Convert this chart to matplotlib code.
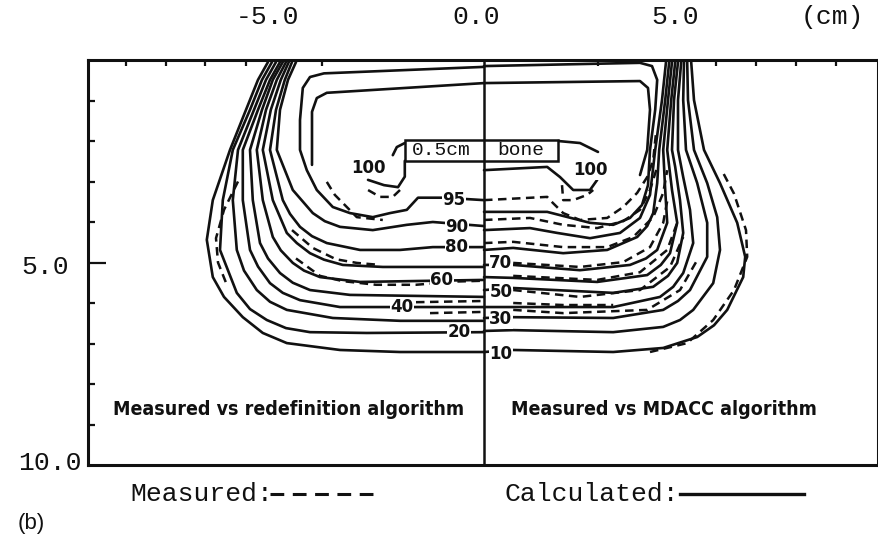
import matplotlib.pyplot as plt
from matplotlib.lines import Line2D
from matplotlib.patches import Rectangle

# Isodose lines as (lateral position in cm, depth in cm).
# Left half: measured vs redefinition algorithm, right half: measured vs MDACC.
calc_left_10 = [(0.2, 7.21), (-1.9, 7.21), (-3.4, 7.16), (-4.73, 6.99), (-5.33, 6.74), (-5.83, 6.35),
                (-6.3, 5.85), (-6.58, 5.36), (-6.73, 4.44), (-6.58, 3.46), (-6.15, 2.22), (-5.75, 1.23),
                (-5.45, 0.49), (-5.2, 0.05)]
calc_left_20 = [(0.2, 6.72), (-2.73, 6.74), (-4.15, 6.72), (-4.75, 6.62), (-5.23, 6.42), (-5.65, 6.15),
                (-5.98, 5.75), (-6.4, 4.69), (-6.33, 3.46), (-6.08, 2.22), (-5.65, 1.23), (-5.35, 0.49),
                (-5.1, 0.05)]
calc_left_30 = [(0.2, 6.44), (-1.9, 6.44), (-3.58, 6.37), (-4.73, 6.17), (-5.15, 5.97), (-5.48, 5.68),
                (-5.8, 5.2), (-5.98, 4.69), (-6.08, 3.46), (-5.95, 2.22), (-5.55, 1.23), (-5.25, 0.49),
                (-5.0, 0.05)]
calc_left_40 = [(0.2, 6.1), (-3.4, 6.1), (-4.4, 5.93), (-4.83, 5.75), (-5.15, 5.51), (-5.45, 5.1),
                (-5.65, 4.69), (-5.83, 3.46), (-5.83, 2.22), (-5.45, 1.23), (-5.15, 0.49), (-4.9, 0.05)]
calc_left_50 = [(0.2, 5.85), (-3.15, 5.8), (-4.15, 5.68), (-4.58, 5.5), (-4.9, 5.26), (-5.2, 4.9),
                (-5.4, 4.52), (-5.58, 3.46), (-5.65, 2.22), (-5.35, 1.23), (-5.08, 0.49), (-4.83, 0.05)]
calc_left_60 = [(0.2, 5.43), (-2.9, 5.48), (-3.9, 5.36), (-4.3, 5.2), (-4.58, 5.01), (-4.88, 4.7),
                (-5.08, 4.37), (-5.33, 3.46), (-5.48, 2.22), (-5.25, 1.23), (-4.98, 0.49), (-4.75, 0.05)]
calc_left_70 = [(0.2, 5.11), (-2.33, 5.11), (-3.33, 5.06), (-3.8, 4.93), (-4.15, 4.77), (-4.48, 4.52),
                (-4.73, 4.27), (-5.08, 3.46), (-5.33, 2.22), (-5.13, 1.23), (-4.88, 0.49), (-4.68, 0.05)]
calc_left_80 = [(0.2, 4.62), (-1.08, 4.62), (-1.9, 4.69), (-2.9, 4.69), (-3.73, 4.52), (-4.1, 4.35),
                (-4.4, 4.12), (-4.65, 3.8), (-4.83, 3.46), (-5.15, 2.22), (-5.0, 1.23), (-4.78, 0.49),
                (-4.6, 0.05)]
calc_left_90 = [(0.2, 4.1), (-1.08, 4.0), (-1.73, 4.07), (-2.58, 4.2), (-3.4, 4.12), (-3.78, 3.98),
                (-4.08, 3.78), (-4.58, 3.21), (-4.98, 2.22), (-4.9, 1.23), (-4.7, 0.49), (-4.5, 0.05)]
calc_left_95 = [(0.2, 3.46), (-0.8, 3.4), (-1.45, 3.4), (-1.73, 3.7), (-2.15, 3.78), (-2.58, 3.88),
                (-3.15, 3.78), (-3.58, 3.63), (-3.98, 3.21), (-4.23, 2.72), (-4.4, 2.22), (-4.4, 1.48),
                (-4.33, 0.69), (-4.15, 0.42), (-3.8, 0.33), (0.2, 0.17)]
calc_left_100 = [(0.2, 0.57), (-3.73, 0.81), (-3.98, 0.94), (-4.1, 1.28), (-4.1, 2.59)]
calc_left_100_bone = [(-1.78, 2.49), (-1.78, 2.88), (-1.95, 3.14), (-2.3, 3.09), (-2.7, 2.96)]
calc_left_100_curl = [(-2.08, 2.35), (-1.98, 2.15), (-1.78, 2.05)]

calc_right_10 = [(0.2, 7.21), (0.93, 7.16), (3.43, 7.21), (4.68, 7.11), (5.53, 6.84), (5.95, 6.55),
                 (6.28, 6.17), (6.68, 5.36), (6.73, 4.86), (6.53, 4.02), (6.1, 3.04), (5.7, 2.22),
                 (5.45, 0.99), (5.38, 0.05)]
calc_right_20 = [(0.2, 6.69), (0.93, 6.67), (3.43, 6.72), (4.68, 6.59), (5.1, 6.42), (5.43, 6.17),
                 (5.93, 5.51), (6.1, 4.69), (6.03, 3.88), (5.78, 3.04), (5.45, 2.22), (5.3, 0.99),
                 (5.28, 0.05)]
calc_right_30 = [(0.2, 6.37), (0.93, 6.35), (3.43, 6.37), (4.68, 6.17), (5.05, 5.95), (5.35, 5.68),
                 (5.78, 4.86), (5.78, 4.02), (5.53, 3.04), (5.25, 2.22), (5.18, 0.99), (5.2, 0.05)]
calc_right_40 = [(0.2, 6.1), (2.1, 6.1), (3.43, 6.1), (4.6, 5.85), (4.93, 5.6), (5.18, 5.26),
                 (5.43, 4.52), (5.35, 3.7), (5.18, 2.89), (5.05, 2.22), (5.05, 0.99), (5.13, 0.05)]
calc_right_50 = [(0.2, 5.68), (0.93, 5.63), (3.43, 5.75), (4.43, 5.6), (4.8, 5.33), (5.03, 5.01),
                 (5.18, 4.27), (5.1, 3.46), (4.98, 2.64), (4.9, 2.22), (4.95, 0.99), (5.05, 0.05)]
calc_right_60 = [(0.2, 5.36), (0.93, 5.38), (3.03, 5.48), (4.28, 5.31), (4.62, 5.06), (4.85, 4.77),
                 (5.03, 4.02), (4.9, 3.21), (4.78, 2.22), (4.88, 0.99), (4.98, 0.05)]
calc_right_70 = [(0.2, 5.06), (0.93, 5.06), (2.6, 5.19), (3.85, 5.06), (4.25, 4.9), (4.53, 4.69),
                 (4.78, 4.02), (4.73, 3.21), (4.68, 2.22), (4.8, 0.99), (4.9, 0.05)]
calc_right_80 = [(0.2, 4.69), (0.93, 4.64), (2.18, 4.77), (3.28, 4.69), (4.03, 4.37), (4.28, 4.1),
                 (4.43, 3.78), (4.53, 3.04), (4.58, 2.22), (4.73, 0.99), (4.83, 0.05)]
calc_right_90 = [(0.2, 4.2), (1.35, 4.15), (2.03, 4.27), (2.85, 4.4), (3.6, 4.27), (4.1, 3.9),
                 (4.35, 3.33), (4.48, 2.22), (4.65, 0.99), (4.75, 0.05)]
calc_right_95 = [(0.2, 3.75), (1.78, 3.75), (2.85, 4.02), (3.43, 4.07), (3.85, 3.9), (4.15, 3.58),
                 (4.3, 3.09), (4.35, 2.22), (4.48, 1.23), (4.53, 0.49), (4.4, 0.15), (4.1, 0.07), (0.2, 0.15)]
calc_right_100 = [(0.2, 0.57), (4.1, 0.52), (4.3, 0.69), (4.35, 1.23), (4.28, 2.22), (4.1, 2.84)]
calc_right_100_bone = [(0.2, 2.72), (1.78, 2.64), (2.1, 2.89), (2.43, 3.21), (2.85, 3.21), (3.03, 2.96)]
calc_right_100_edge = [(2.05, 2.0), (2.6, 2.05), (3.05, 2.27)]

meas_left_10 = [(-5.95, 3.0), (-6.3, 3.7), (-6.5, 4.4), (-6.45, 5.0), (-6.25, 5.5)]
meas_left_40 = [(-1.15, 6.25), (0.2, 6.22)]
meas_left_50 = [(-1.5, 5.98), (0.2, 5.95)]
meas_left_60 = [(-4.5, 4.9), (-3.9, 5.33), (-3.33, 5.46), (-2.5, 5.55), (-1.5, 5.55), (-0.5, 5.47), (0.2, 5.45)]
meas_left_70 = [(-4.6, 4.2), (-4.08, 4.64), (-3.5, 4.92), (-2.98, 5.01), (-2.4, 5.06)]
meas_left_95 = [(-3.73, 3.01), (-3.53, 3.33), (-2.98, 3.88), (-2.33, 3.95)]
meas_left_100 = [(-1.9, 3.21), (-2.08, 3.38), (-2.4, 3.38), (-2.7, 3.21)]

meas_right_10 = [(4.35, 7.21), (5.28, 6.99), (5.93, 6.42), (6.45, 5.68), (6.78, 4.86), (6.75, 4.2),
                 (6.45, 3.3), (6.18, 2.79)]
meas_right_30 = [(0.93, 6.17), (2.18, 6.25), (4.28, 6.17), (5.1, 5.68), (5.53, 4.94)]
meas_right_40 = [(0.93, 6.0), (2.18, 6.05), (3.43, 6.05)]
meas_right_50 = [(0.93, 5.68), (2.6, 5.85), (4.1, 5.68), (4.85, 5.11), (5.18, 4.37)]
meas_right_60 = [(0.93, 5.33), (3.03, 5.43), (4.1, 5.24), (4.78, 4.69), (5.03, 4.02)]
meas_right_70 = [(0.93, 5.01), (2.6, 5.11), (3.68, 4.99), (4.35, 4.62), (4.68, 4.02), (4.8, 3.38)]
meas_right_80 = [(0.2, 4.52), (0.93, 4.49), (2.18, 4.62), (3.28, 4.62), (3.93, 4.37), (4.43, 3.88),
                 (4.68, 3.28), (4.78, 2.72)]
meas_right_90 = [(0.2, 3.95), (1.35, 3.9), (2.18, 4.07), (3.03, 4.15), (3.68, 3.98), (4.1, 3.7),
                 (4.35, 3.21), (4.53, 2.64)]
meas_right_95 = [(0.2, 3.46), (1.78, 3.38), (1.85, 3.46), (2.18, 3.78), (2.6, 3.95), (3.28, 3.9),
                 (3.68, 3.63), (4.03, 3.28), (4.28, 2.89), (4.43, 2.47), (4.5, 1.8)]
meas_right_100 = [(2.15, 3.09), (2.18, 3.46), (2.43, 3.46), (2.78, 3.33), (2.93, 3.21)]

calculated = [calc_left_10, calc_left_20, calc_left_30, calc_left_40, calc_left_50, calc_left_60,
              calc_left_70, calc_left_80, calc_left_90, calc_left_95, calc_left_100,
              calc_left_100_bone, calc_left_100_curl,
              calc_right_10, calc_right_20, calc_right_30, calc_right_40, calc_right_50, calc_right_60,
              calc_right_70, calc_right_80, calc_right_90, calc_right_95, calc_right_100,
              calc_right_100_bone, calc_right_100_edge]
measured = [meas_left_10, meas_left_40, meas_left_50, meas_left_60, meas_left_70, meas_left_95,
            meas_left_100, meas_right_10, meas_right_30, meas_right_40, meas_right_50, meas_right_60,
            meas_right_70, meas_right_80, meas_right_90, meas_right_95, meas_right_100]

# isodose labels: text, lateral position, depth
level_labels = ['95', '90', '80', '60', '40', '20', '70', '50', '30', '10', '100', '100']
label_x = [-0.55, -0.48, -0.48, -0.85, -1.85, -0.43, 0.62, 0.62, 0.62, 0.62, -2.7, 2.85]
label_y = [3.46, 4.12, 4.62, 5.43, 6.1, 6.72, 5.01, 5.73, 6.4, 7.26, 2.67, 2.72]

top_ticks = [-8.75, -7.75, -6.78, -5.75, -3.85, 3.05, 6.0, 7.0, 8.0, 9.0]
depth_ticks = [1, 2, 3, 4, 6, 7, 8, 9]

ink = '#111111'
mono = 'Liberation Mono'

fig = plt.figure(figsize=(8.79, 5.38), dpi=100)
ax = fig.add_axes([88 / 879, 1 - 465 / 538, 790 / 879, 405 / 538])
ax.set_xlim(-9.7, 10.05)
ax.set_ylim(10, 0)

for pts in calculated:
    xs, ys = zip(*pts)
    ax.plot(xs, ys, color=ink, lw=1.9, solid_joinstyle='round', solid_capstyle='round', zorder=2)
for pts in measured:
    xs, ys = zip(*pts)
    ax.plot(xs, ys, color=ink, lw=1.8, dashes=(3.4, 2.2), zorder=2)

# split line between the two comparisons
ax.plot([0.2, 0.2], [0, 10], color=ink, lw=1.8, zorder=4)

# bone insert
ax.add_patch(Rectangle((-1.78, 1.98), 3.83, 0.51, facecolor='white', edgecolor=ink, lw=1.8, zorder=3))
ax.text(-0.88, 2.24, '0.5cm', ha='center', va='center', fontsize=14, family=mono, color=ink, zorder=5)
ax.text(1.12, 2.24, 'bone', ha='center', va='center', fontsize=14, family=mono, color=ink, zorder=5)

for t, x, y in zip(level_labels, label_x, label_y):
    ax.text(x, y, t, ha='center', va='center', fontsize=12, fontweight='bold', color=ink, zorder=5,
            bbox=dict(facecolor='white', edgecolor='none', pad=0.4))

ax.text(-4.68, 8.64, 'Measured vs redefinition algorithm', ha='center', va='center', fontsize=14,
        fontweight='heavy', fontstretch='condensed', color=ink)
ax.text(4.7, 8.64, 'Measured vs MDACC algorithm', ha='center', va='center', fontsize=14,
        fontweight='heavy', fontstretch='condensed', color=ink)

# frame and ticks
for s in ax.spines.values():
    s.set_linewidth(2.2)
    s.set_color(ink)
ax.xaxis.set_ticks_position('top')
ax.set_xticks(top_ticks)
ax.tick_params(axis='x', direction='in', length=4, width=1.6, color=ink, labeltop=False, labelbottom=False)
ax.set_yticks([5])
ax.set_yticks(depth_ticks, minor=True)
ax.tick_params(axis='y', which='major', direction='in', length=13, width=1.6, color=ink, labelleft=False)
ax.tick_params(axis='y', which='minor', direction='in', length=5, width=1.6, color=ink)

# axis numbering drawn outside the frame
for t, x in zip(['-5.0', '0.0', '5.0'], [-5.2, 0.0, 4.98]):
    ax.text(x, -1.05, t, ha='center', va='center', fontsize=19, family=mono, color=ink, clip_on=False)
ax.text(8.9, -1.05, '(cm)', ha='center', va='center', fontsize=19, family=mono, color=ink, clip_on=False)
ax.text(-10.78, 5.1, '5.0', ha='center', va='center', fontsize=19, family=mono, color=ink, clip_on=False)
ax.text(-10.65, 9.95, '10.0', ha='center', va='center', fontsize=19, family=mono, color=ink, clip_on=False)

# line style key
fig.text(130 / 879, 1 - 494 / 538, 'Measured:', ha='left', va='center', fontsize=19, family=mono, color=ink)
fig.add_artist(Line2D([270 / 879, 373 / 879], [1 - 494 / 538] * 2, transform=fig.transFigure,
                      color=ink, lw=2.2, dashes=(4.5, 2.8)))
fig.text(505 / 879, 1 - 494 / 538, 'Calculated:', ha='left', va='center', fontsize=19, family=mono, color=ink)
fig.add_artist(Line2D([680 / 879, 804 / 879], [1 - 494 / 538] * 2, transform=fig.transFigure,
                      color=ink, lw=2.4))
fig.text(18 / 879, 1 - 523 / 538, '(b)', ha='left', va='center', fontsize=16, family='Liberation Sans', color=ink)

fig.savefig('out.png', dpi=100, facecolor='white')
